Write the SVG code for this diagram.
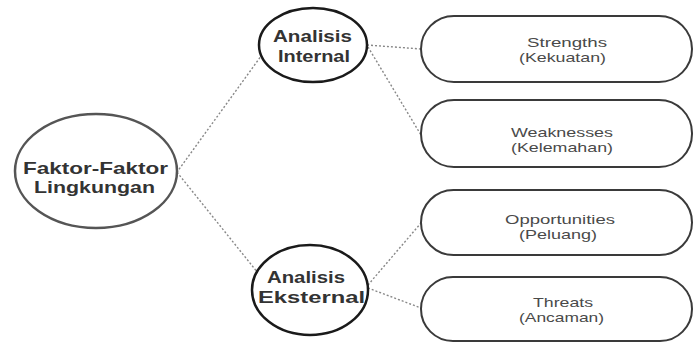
<svg xmlns="http://www.w3.org/2000/svg" width="694" height="342" viewBox="0 0 694 342">
<style>
.bold{font-family:"Liberation Sans",Arial,sans-serif;font-weight:bold;font-size:17px;fill:#333}
.reg{font-family:"Liberation Sans",Arial,sans-serif;font-size:13px;fill:#4a4a4a}
.main{fill:#fff;stroke:#555;stroke-width:2.5}
.sub{fill:#fff;stroke:#1a1a1a;stroke-width:2.5}
.pill{fill:#fff;stroke:#3a3a3a;stroke-width:2}
.conn line{stroke:#888;stroke-width:1.4;stroke-dasharray:2 2;fill:none}
</style>
<rect width="694" height="342" fill="#fff"/>
<g id="connectors" class="conn">
<line x1="172" y1="179" x2="264" y2="52"/>
<line x1="172" y1="166" x2="262" y2="278"/>
<line x1="367" y1="45" x2="421" y2="49"/>
<line x1="368" y1="47" x2="421" y2="135"/>
<line x1="368" y1="285" x2="421" y2="223"/>
<line x1="368" y1="288" x2="421" y2="308"/>
</g>
<g id="faktor">
<ellipse class="main" cx="96" cy="171" rx="81" ry="57"/>
<text class="bold" x="23" y="174" textLength="145" lengthAdjust="spacingAndGlyphs">Faktor-Faktor</text>
<text class="bold" x="34" y="193" textLength="121" lengthAdjust="spacingAndGlyphs">Lingkungan</text>
</g>
<g id="internal">
<ellipse class="sub" cx="313" cy="45" rx="54" ry="37"/>
<text class="bold" x="273" y="42" textLength="79" lengthAdjust="spacingAndGlyphs">Analisis</text>
<text class="bold" x="278" y="62" textLength="72" lengthAdjust="spacingAndGlyphs">Internal</text>
</g>
<g id="eksternal">
<ellipse class="sub" cx="310" cy="290" rx="58" ry="45"/>
<text class="bold" x="267" y="283" textLength="78" lengthAdjust="spacingAndGlyphs">Analisis</text>
<text class="bold" x="258" y="303" textLength="107" lengthAdjust="spacingAndGlyphs">Eksternal</text>
</g>
<g id="strengths">
<rect class="pill" x="421" y="16" width="271" height="66" rx="33"/>
<text class="reg" x="527" y="47" textLength="80" lengthAdjust="spacingAndGlyphs">Strengths</text>
<text class="reg" x="519" y="62" textLength="87" lengthAdjust="spacingAndGlyphs">(Kekuatan)</text>
</g>
<g id="weaknesses">
<rect class="pill" x="421" y="100" width="271" height="67" rx="33"/>
<text class="reg" x="511" y="137" textLength="102" lengthAdjust="spacingAndGlyphs">Weaknesses</text>
<text class="reg" x="511" y="152" textLength="102" lengthAdjust="spacingAndGlyphs">(Kelemahan)</text>
</g>
<g id="opportunities">
<rect class="pill" x="421" y="190" width="271" height="65" rx="32.5"/>
<text class="reg" x="505" y="224" textLength="110" lengthAdjust="spacingAndGlyphs">Opportunities</text>
<text class="reg" x="519" y="239" textLength="78" lengthAdjust="spacingAndGlyphs">(Peluang)</text>
</g>
<g id="threats">
<rect class="pill" x="421" y="277" width="271" height="64" rx="32"/>
<text class="reg" x="533" y="307" textLength="60" lengthAdjust="spacingAndGlyphs">Threats</text>
<text class="reg" x="519" y="322" textLength="85" lengthAdjust="spacingAndGlyphs">(Ancaman)</text>
</g>
</svg>
